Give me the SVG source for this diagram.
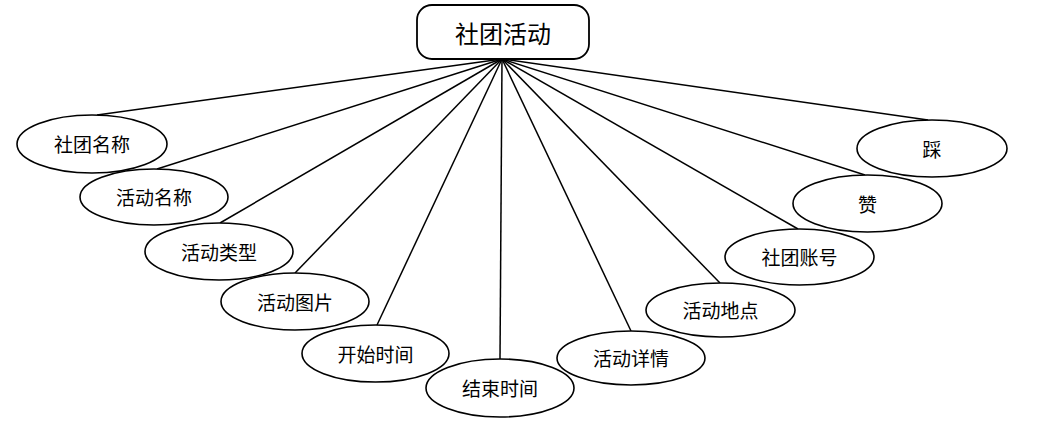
<svg xmlns="http://www.w3.org/2000/svg" width="1041" height="429" viewBox="0 0 1041 429">
<style>
.n ellipse{fill:#fff;stroke:#000;stroke-width:1.6}
.n rect{fill:#fff;stroke:#000;stroke-width:1.8}
.t{font-family:"Noto Sans CJK SC","Liberation Sans",sans-serif;font-size:19px;fill:#000;text-anchor:middle;dominant-baseline:central}
.tt{font-size:24px}
#edges line{stroke:#000;stroke-width:1.5}
</style>
<rect width="1041" height="429" fill="#fff"/>
<g id="edges">
<line x1="502" y1="59" x2="97" y2="115"/>
<line x1="502" y1="59" x2="157" y2="169"/>
<line x1="502" y1="59" x2="220" y2="223"/>
<line x1="502" y1="59" x2="295" y2="273"/>
<line x1="502" y1="59" x2="377" y2="325"/>
<line x1="502" y1="59" x2="500" y2="359"/>
<line x1="502" y1="59" x2="631" y2="331"/>
<line x1="502" y1="59" x2="720" y2="283"/>
<line x1="502" y1="59" x2="798" y2="229"/>
<line x1="502" y1="59" x2="865" y2="175"/>
<line x1="502" y1="59" x2="928" y2="120"/>
</g>
<g id="root" class="n"><rect x="417" y="5" width="172" height="54" rx="15"/><text class="t tt" x="503" y="32">社团活动</text></g>
<g id="n1" class="n"><ellipse cx="92" cy="144" rx="75" ry="29"/><text class="t" x="92" y="143">社团名称</text></g>
<g id="n2" class="n"><ellipse cx="154" cy="197" rx="74" ry="28"/><text class="t" x="154" y="196">活动名称</text></g>
<g id="n3" class="n"><ellipse cx="219" cy="251.5" rx="74" ry="28.5"/><text class="t" x="219" y="251">活动类型</text></g>
<g id="n4" class="n"><ellipse cx="295" cy="301.5" rx="74" ry="28.5"/><text class="t" x="295" y="301">活动图片</text></g>
<g id="n5" class="n"><ellipse cx="375.5" cy="353.5" rx="73.5" ry="28.5"/><text class="t" x="375.5" y="353">开始时间</text></g>
<g id="n6" class="n"><ellipse cx="500" cy="388" rx="74" ry="29"/><text class="t" x="500" y="387">结束时间</text></g>
<g id="n7" class="n"><ellipse cx="631" cy="358" rx="74" ry="27"/><text class="t" x="631" y="357">活动详情</text></g>
<g id="n8" class="n"><ellipse cx="720.5" cy="310" rx="74.5" ry="27"/><text class="t" x="720.5" y="309">活动地点</text></g>
<g id="n9" class="n"><ellipse cx="799.5" cy="257" rx="74.5" ry="28"/><text class="t" x="799.5" y="256">社团账号</text></g>
<g id="n10" class="n"><ellipse cx="867.5" cy="203.5" rx="74.5" ry="28.5"/><text class="t" x="867.5" y="203">赞</text></g>
<g id="n11" class="n"><ellipse cx="932" cy="148.5" rx="75" ry="28.5"/><text class="t" x="932" y="148">踩</text></g>
</svg>
